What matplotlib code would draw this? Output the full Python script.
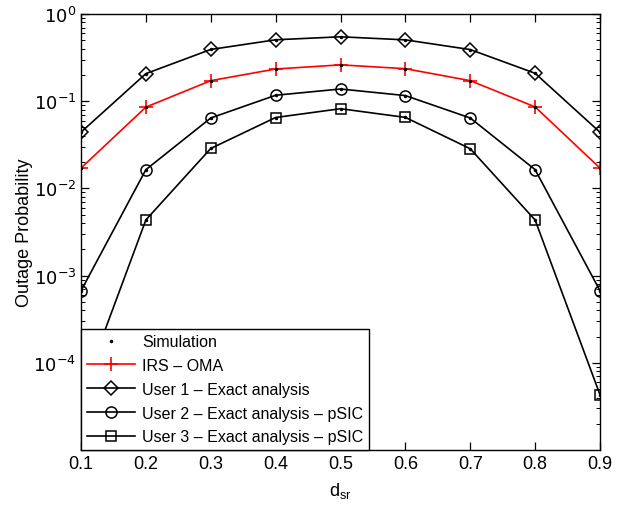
import matplotlib.pyplot as plt
import numpy as np
from matplotlib.ticker import LogLocator, NullFormatter

plt.rcParams['font.family'] = ['Liberation Sans', 'DejaVu Sans']

d_sr = [0.1, 0.2, 0.3, 0.4, 0.5, 0.6, 0.7, 0.8, 0.9]
oma = [0.0171, 0.0855, 0.172, 0.234, 0.261, 0.236, 0.172, 0.0860, 0.0171]
user1 = [0.0441, 0.207, 0.392, 0.506, 0.548, 0.505, 0.391, 0.209, 0.0440]
user2 = [6.7e-4, 0.0164, 0.0642, 0.117, 0.138, 0.116, 0.0642, 0.0164, 6.7e-4]
user3 = [4.3e-5, 0.00435, 0.0287, 0.0650, 0.0820, 0.0652, 0.0285, 0.00434, 4.3e-5]
ytick_vals = [1e-4, 1e-3, 1e-2, 1e-1, 1e0]
ytick_labels = ['$10^{-4}$', '$10^{-3}$', '$10^{-2}$', '$10^{-1}$', '$10^{0}$']

fig = plt.figure(figsize=(6.31, 5.10), dpi=100)
ax = fig.add_axes([81/631, 1 - 451/510, (600-81)/631, (451-15)/510])

sim, = ax.plot(d_sr, user1, 'k.', ms=3, zorder=4)
ax.plot(d_sr, oma, 'k.', ms=3, zorder=4)
ax.plot(d_sr, user2, 'k.', ms=3, zorder=4)
ax.plot(d_sr, user3, 'k.', ms=3, zorder=4)

l0, = ax.plot(d_sr, oma, '-', color='red', marker='+', ms=10, mew=1.2, lw=1.2)
l1, = ax.plot(d_sr, user1, '-', color='black', marker='D', ms=7, mfc='none', mew=1.1, lw=1.2)
l2, = ax.plot(d_sr, user2, '-', color='black', marker='o', ms=8, mfc='none', mew=1.1, lw=1.2)
l3, = ax.plot(d_sr, user3, '-', color='black', marker='s', ms=6.5, mfc='none', mew=1.1, lw=1.2)

ax.set_yscale('log')
ax.set_xlim(0.1, 0.9)
ax.set_ylim(1e-5, 1)
ax.set_xticks(d_sr)
ax.set_xticklabels(['0.1', '0.2', '0.3', '0.4', '0.5', '0.6', '0.7', '0.8', '0.9'])
ax.set_yticks(ytick_vals)
ax.set_yticklabels(ytick_labels)
ax.yaxis.set_minor_locator(LogLocator(base=10, subs=np.arange(2, 10), numticks=20))
ax.yaxis.set_minor_formatter(NullFormatter())
ax.tick_params(which='both', direction='in', top=True, right=True, labelsize=13)
ax.tick_params(which='major', length=6, width=0.9)
ax.tick_params(which='minor', length=3, width=0.7)
for s in ax.spines.values():
    s.set_linewidth(1.0)

ax.set_xlabel('d$_{\\mathregular{sr}}$', fontsize=13, labelpad=6)
ax.set_ylabel('Outage Probability', fontsize=13)
ax.yaxis.set_label_coords(-0.092, 0.5)

leg = ax.legend([sim, l0, l1, l2, l3],
                ['Simulation', 'IRS \u2013 OMA', 'User 1 \u2013 Exact analysis',
                 'User 2 \u2013 Exact analysis \u2013 pSIC', 'User 3 \u2013 Exact analysis \u2013 pSIC'],
                loc='lower left', bbox_to_anchor=(0, 0), borderaxespad=0, fontsize=11.5,
                fancybox=False, edgecolor='black', framealpha=1, handlelength=3,
                labelspacing=0.55, handletextpad=0.5, borderpad=0.35)
leg.get_frame().set_linewidth(1.0)

fig.savefig('out.png', dpi=100)
